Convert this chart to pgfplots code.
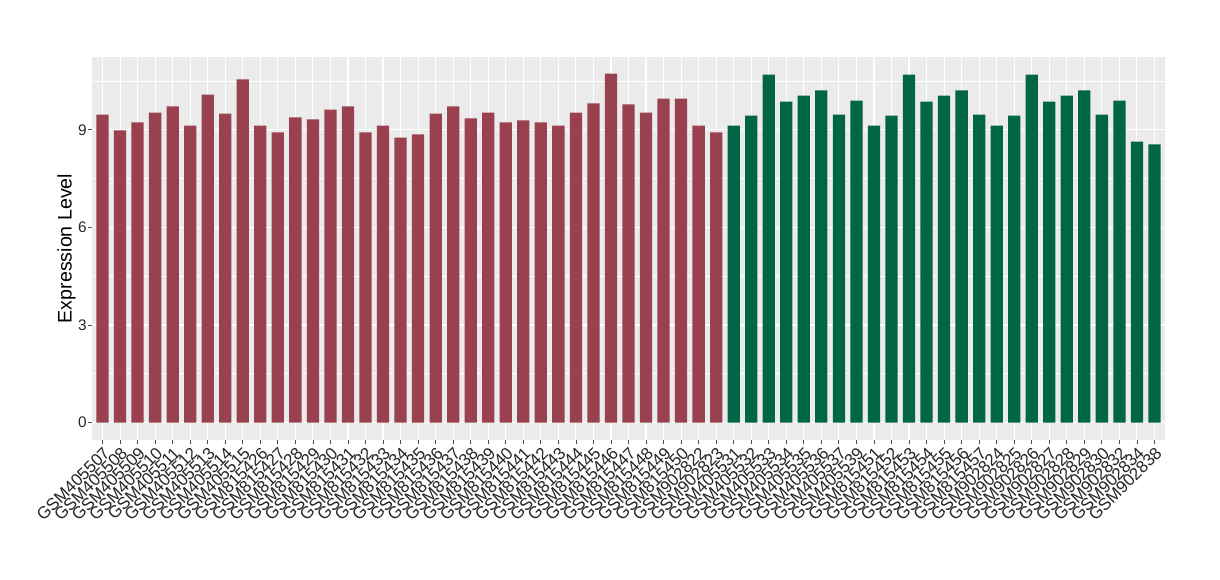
\documentclass[border=0pt]{standalone}
\usepackage{pgfplots}
\pgfplotsset{compat=1.18}
\usepackage{fontspec}
\setmainfont{Liberation Sans}
\definecolor{panelbg}{HTML}{EBEBEB}
\definecolor{barred}{RGB}{154,65,80}
\definecolor{bargreen}{RGB}{0,102,68}
\begin{document}
\begin{tikzpicture}[x=1bp,y=1bp]
\useasboundingbox (0,0) rectangle (1220,580);
\begin{axis}[
  at={(92bp,140bp)}, anchor=south west,
  scale only axis, width=1073bp, height=383bp,
  xmin=-0.6, xmax=60.6, ymin=-0.536, ymax=11.24,
  axis background/.style={fill=panelbg},
  axis line style={draw=none},
  tick pos=left, tick align=outside,
  major tick length=3.65bp, minor tick length=0pt,
  every tick/.style={color=black!70, line width=0.8bp},
  xtick={0,...,60},
  xticklabels={GSM405507,GSM405508,GSM405509,GSM405510,GSM405511,GSM405512,GSM405513,GSM405514,GSM405515,GSM815426,GSM815427,GSM815428,GSM815429,GSM815430,GSM815431,GSM815432,GSM815433,GSM815434,GSM815435,GSM815436,GSM815437,GSM815438,GSM815439,GSM815440,GSM815441,GSM815442,GSM815443,GSM815444,GSM815445,GSM815446,GSM815447,GSM815448,GSM815449,GSM815450,GSM902822,GSM902823,GSM405531,GSM405532,GSM405533,GSM405534,GSM405535,GSM405536,GSM405537,GSM405539,GSM815451,GSM815452,GSM815453,GSM815454,GSM815455,GSM815456,GSM815457,GSM902824,GSM902825,GSM902826,GSM902827,GSM902828,GSM902829,GSM902830,GSM902832,GSM902834,GSM902838},
  ytick={0,3,6,9},
  minor ytick={1.5,4.5,7.5,10.5},
  grid=both,
  major grid style={white, line width=1.1bp},
  minor grid style={white, line width=0.55bp},
  /pgf/number format/assume math mode=true,
  xticklabel style={rotate=45, anchor=north east, inner sep=1.5bp, font=\fontsize{17}{17}\selectfont, text=black!85},
  yticklabel style={inner sep=1.5bp, font=\fontsize{15.4}{16}\selectfont, text=black!85},
  ylabel={Expression Level},
  ylabel style={at={(axis description cs:-0.012,0.5)}, anchor=south, font=\fontsize{19.7}{20}\selectfont},
  ybar, bar width=0.7, bar shift=0pt,
]
\addplot[fill=barred, draw=none] coordinates {
(0,9.47) (1,8.98) (2,9.23) (3,9.53) (4,9.72) (5,9.13) (6,10.08) (7,9.50) (8,10.55)
(9,9.13) (10,8.92) (11,9.38) (12,9.32) (13,9.62) (14,9.72) (15,8.92) (16,9.13)
(17,8.76) (18,8.86) (19,9.50) (20,9.72) (21,9.35) (22,9.53) (23,9.23) (24,9.29)
(25,9.23) (26,9.13) (27,9.53) (28,9.81) (29,10.73) (30,9.78) (31,9.53) (32,9.96)
(33,9.96) (34,9.13) (35,8.92)
};
\addplot[fill=bargreen, draw=none] coordinates {
(36,9.13) (37,9.44) (38,10.70) (39,9.87) (40,10.05) (41,10.21) (42,9.47) (43,9.90)
(44,9.13) (45,9.44) (46,10.70) (47,9.87) (48,10.05) (49,10.21) (50,9.47)
(51,9.13) (52,9.44) (53,10.70) (54,9.87) (55,10.05) (56,10.21) (57,9.47)
(58,9.90) (59,8.64) (60,8.55)
};
\end{axis}
\end{tikzpicture}
\end{document}
